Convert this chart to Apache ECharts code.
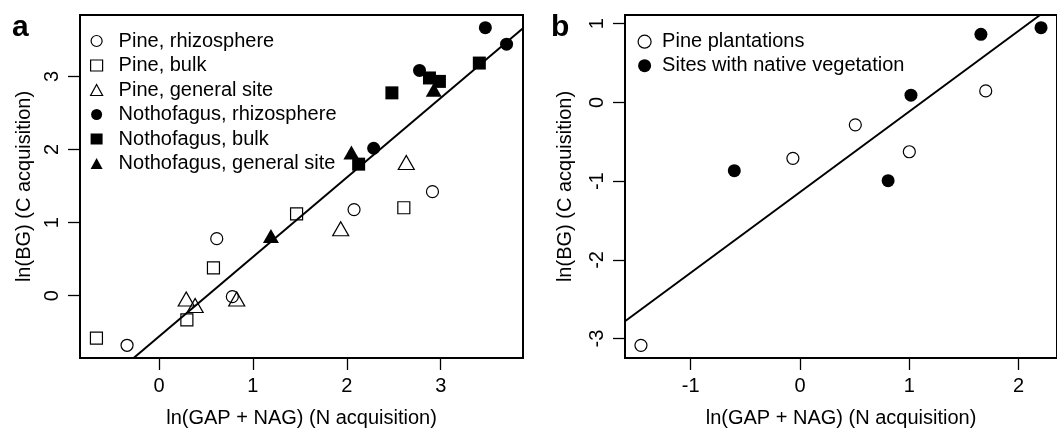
<!DOCTYPE html>
<html>
<head>
<meta charset="utf-8">
<script src="https://cdn.jsdelivr.net/npm/echarts@6/dist/echarts.min.js"></script>
<style>
  html, body { margin: 0; padding: 0; background: #fff; }
  #main { width: 1057px; height: 433px; }
</style>
</head>
<body>
<div id="main"></div>
<script>
// panel a : [ln(GAP+NAG), ln(BG)]
var pineRhizo = [[-0.34, -0.68], [0.615, 0.78], [0.781, -0.014], [2.077, 1.178], [2.912, 1.423]];
var pineBulk = [[-0.666, -0.581], [0.297, -0.332], [0.58, 0.381], [1.465, 1.12], [2.607, 1.203]];
var pineGeneral = [[0.29, -0.046], [0.385, -0.136], [0.828, -0.046], [1.935, 0.916], [2.633, 1.823]];
var nothoRhizo = [[2.286, 2.018], [2.774, 3.083], [3.475, 3.668], [3.701, 3.442]];
var nothoBulk = [[2.126, 1.8], [2.48, 2.776], [2.88, 2.98], [2.986, 2.933], [3.411, 3.184]];
var nothoGeneral = [[1.192, 0.816], [2.049, 1.959], [2.926, 2.82]];
var fitLineA = [[-0.27, -0.854], [3.876, 3.66]];

// panel b
var pinePlant = [[-1.455, -3.085], [-0.065, -0.71], [0.506, -0.284], [1.0, -0.626], [1.699, 0.147]];
var nativeVeg = [[-0.601, -0.867], [0.806, -0.994], [1.015, 0.093], [1.655, 0.866], [2.205, 0.95]];
var fitLineB = [[-1.601, -2.78], [2.196, 1.111]];

// tick labels
var ticksAX = [0, 1, 2, 3];
var ticksAY = [0, 1, 2, 3];
var ticksBX = [-1, 0, 1, 2];
var ticksBY = [-3, -2, -1, 0, 1];

var xTitle = 'ln(GAP + NAG) (N acquisition)';
var yTitle = 'ln(BG) (C acquisition)';

var FONT = 'Liberation Sans';
// scatter default opacity is 0.8, force solid black
var openStyle = { color: 'rgba(0,0,0,0)', borderColor: '#000', borderWidth: 1.2, opacity: 1 };
var fillStyle = { color: '#000', borderWidth: 0, opacity: 1 };

function valueAxis(gridIndex, min, max, ticks, name, nameGap, isY, labelMargin) {
    return {
        type: 'value',
        gridIndex: gridIndex,
        min: min,
        max: max,
        name: name,
        nameLocation: 'middle',
        nameGap: nameGap,
        nameTextStyle: { color: '#000', fontSize: 20, fontFamily: FONT },
        axisLine: { show: false, onZero: false },
        splitLine: { show: false },
        axisTick: { show: true, length: 12, customValues: ticks, lineStyle: { color: '#000', width: 1.3 } },
        axisLabel: {
            customValues: ticks,
            color: '#000',
            fontSize: 20,
            fontFamily: FONT,
            margin: labelMargin,
            rotate: isY ? 90 : 0
        }
    };
}

var myChart = echarts.init(document.getElementById('main'));

var Option = {
    animation: false,
    backgroundColor: '#fff',
    textStyle: { fontFamily: FONT },
    title: [
        { text: 'a', left: 12, top: 13, padding: 0, textStyle: { fontSize: 30, fontWeight: 'bold', color: '#000', fontFamily: FONT } },
        { text: 'b', left: 551, top: 13, padding: 0, textStyle: { fontSize: 30, fontWeight: 'bold', color: '#000', fontFamily: FONT } }
    ],
    grid: [
        { left: 80, top: 15, width: 443, height: 345, show: true, borderColor: '#000', borderWidth: 2, backgroundColor: 'rgba(0,0,0,0)' },
        { left: 625, top: 15, width: 442, height: 345, show: true, borderColor: '#000', borderWidth: 2, backgroundColor: 'rgba(0,0,0,0)' }
    ],
    xAxis: [
        valueAxis(0, -0.841, 3.876, ticksAX, xTitle, 50, false, 18),
        valueAxis(1, -1.601, 2.351, ticksBX, xTitle, 50, false, 18)
    ],
    yAxis: [
        valueAxis(0, -0.854, 3.842, ticksAY, yTitle, 46, true, 18),
        valueAxis(1, -3.246, 1.111, ticksBY, yTitle, 50, true, 18)
    ],
    legend: [
        {
            left: 90, top: 31, orient: 'vertical', padding: 0, itemGap: 4.5,
            itemWidth: 12, itemHeight: 11, selectedMode: false,
            textStyle: { color: '#000', fontSize: 20, lineHeight: 20, fontFamily: FONT, padding: [0, 0, 0, 11] },
            data: [
                { name: 'Pine, rhizosphere', icon: 'circle', itemStyle: openStyle },
                { name: 'Pine, bulk', icon: 'rect', itemStyle: openStyle },
                { name: 'Pine, general site', icon: 'triangle', itemStyle: openStyle },
                { name: 'Nothofagus, rhizosphere', icon: 'circle', itemStyle: fillStyle },
                { name: 'Nothofagus, bulk', icon: 'rect', itemStyle: fillStyle },
                { name: 'Nothofagus, general site', icon: 'triangle', itemStyle: fillStyle }
            ]
        },
        {
            left: 637.5, top: 31.7, orient: 'vertical', padding: 0, itemGap: 4,
            itemWidth: 13, itemHeight: 13, selectedMode: false,
            textStyle: { color: '#000', fontSize: 20, lineHeight: 20, fontFamily: FONT, padding: [0, 0, 0, 6] },
            data: [
                { name: 'Pine plantations', icon: 'circle', itemStyle: openStyle },
                { name: 'Sites with native vegetation', icon: 'circle', itemStyle: fillStyle }
            ]
        }
    ],
    series: [
        { name: 'Pine, rhizosphere', type: 'scatter', xAxisIndex: 0, yAxisIndex: 0, symbol: 'circle', symbolSize: 12, itemStyle: openStyle, data: pineRhizo },
        { name: 'Pine, bulk', type: 'scatter', xAxisIndex: 0, yAxisIndex: 0, symbol: 'rect', symbolSize: 12, itemStyle: openStyle, data: pineBulk },
        { name: 'Pine, general site', type: 'scatter', xAxisIndex: 0, yAxisIndex: 0, symbol: 'triangle', symbolSize: [16, 14], itemStyle: openStyle, data: pineGeneral },
        { name: 'Nothofagus, rhizosphere', type: 'scatter', xAxisIndex: 0, yAxisIndex: 0, symbol: 'circle', symbolSize: 13, itemStyle: fillStyle, data: nothoRhizo },
        { name: 'Nothofagus, bulk', type: 'scatter', xAxisIndex: 0, yAxisIndex: 0, symbol: 'rect', symbolSize: 13, itemStyle: fillStyle, data: nothoBulk },
        { name: 'Nothofagus, general site', type: 'scatter', xAxisIndex: 0, yAxisIndex: 0, symbol: 'triangle', symbolSize: [16, 14], itemStyle: fillStyle, data: nothoGeneral },
        { name: 'fitA', type: 'line', xAxisIndex: 0, yAxisIndex: 0, symbol: 'none', clip: true, lineStyle: { color: '#000', width: 2 }, data: fitLineA },

        { name: 'Pine plantations', type: 'scatter', xAxisIndex: 1, yAxisIndex: 1, symbol: 'circle', symbolSize: 12, itemStyle: openStyle, data: pinePlant },
        { name: 'Sites with native vegetation', type: 'scatter', xAxisIndex: 1, yAxisIndex: 1, symbol: 'circle', symbolSize: 13, itemStyle: fillStyle, data: nativeVeg },
        { name: 'fitB', type: 'line', xAxisIndex: 1, yAxisIndex: 1, symbol: 'none', clip: true, lineStyle: { color: '#000', width: 2 }, data: fitLineB }
    ]
};

myChart.setOption(Option);
</script>
</body>
</html>
